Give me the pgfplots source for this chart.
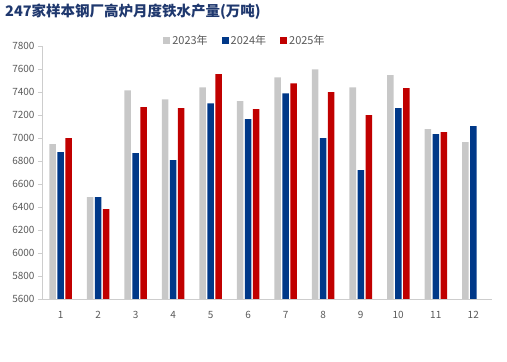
\documentclass[border=0pt]{standalone}
\usepackage{fontspec}
\setmainfont{Noto Sans CJK SC}
\usepackage{pgfplots}
\pgfplotsset{compat=1.18}
\definecolor{cgray}{RGB}{200,200,200}
\definecolor{cblue}{RGB}{0,56,136}
\definecolor{cred}{RGB}{192,0,0}
\definecolor{ctitle}{RGB}{31,56,110}
\definecolor{ctick}{RGB}{89,89,89}
\definecolor{caxis}{RGB}{205,205,205}
\begin{document}
\begin{tikzpicture}
\begin{axis}[
  anchor=south west, scale only axis,
  width=450pt, height=252.7pt,
  ymin=5600, ymax=7800, xmin=0.5, xmax=12.5,
  ybar=1.5pt, bar width=6.5pt,
  axis x line*=bottom, axis y line*=left,
  axis line style={-, draw=caxis, line width=0.9pt},
  xtick={1,...,12}, xtick style={draw=none},
  ytick={5600,5800,...,7800},
  ytick style={draw=caxis, line width=0.8pt},
  tick align=outside, major tick length=4pt,
  /pgf/number format/assume math mode=true,
  /pgf/number format/1000 sep={},
  ticklabel style={font=\fontsize{10}{12}\selectfont, text=ctick},
  xticklabel style={yshift=-5pt},
  legend style={at={(0.451,1.021)}, anchor=center, draw=none, fill=none,
    legend columns=3, font=\fontsize{11}{13}\selectfont, text=ctick,
    /tikz/every even column/.append style={column sep=12pt}},
  legend image code/.code={\fill[#1] (0pt,-3.5pt) rectangle (7pt,3.5pt);},
]
\addplot[fill=cgray, draw=none] coordinates {(1,6948) (2,6487) (3,7417) (4,7339) (5,7443) (6,7322) (7,7530) (8,7600) (9,7443) (10,7548) (11,7078) (12,6965)};
\addplot[fill=cblue, draw=none] coordinates {(1,6878) (2,6487) (3,6870) (4,6809) (5,7304) (6,7165) (7,7391) (8,7000) (9,6722) (10,7261) (11,7035) (12,7104)};
\addplot[fill=cred, draw=none] coordinates {(1,7000) (2,6383) (3,7270) (4,7261) (5,7557) (6,7252) (7,7478) (8,7400) (9,7200) (10,7435) (11,7052)};
\legend{2023年,2024年,2025年}
\end{axis}
\node[anchor=west, font=\bfseries\fontsize{14.5}{16}\selectfont, text=ctitle, inner sep=0] at (-37pt,287pt) {247家样本钢厂高炉月度铁水产量(万吨)};
\pgfresetboundingbox
\useasboundingbox (-42pt,-63pt) rectangle (465pt,299pt);
\end{tikzpicture}
\end{document}
